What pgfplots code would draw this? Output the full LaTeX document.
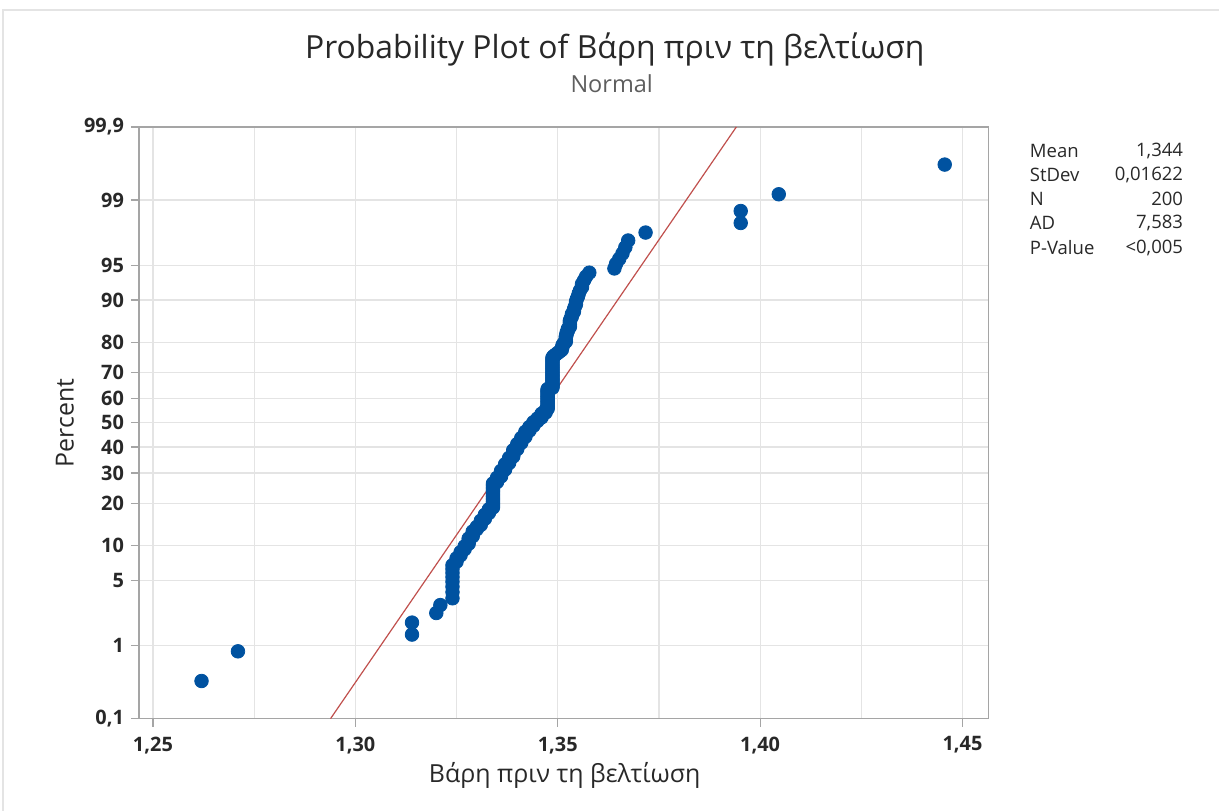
\documentclass[border=0pt]{standalone}
\usepackage{fontspec}
\setmainfont{Open Sans}
\usepackage{pgfplots}
\pgfplotsset{compat=1.18}
\definecolor{dotblue}{RGB}{0,82,160}
\definecolor{fitred}{RGB}{192,80,77}
\definecolor{gridgray}{RGB}{228,228,228}
\definecolor{framegray}{RGB}{165,165,165}
\definecolor{txt}{RGB}{40,40,40}

\begin{document}
\begin{tikzpicture}
% page frame: 1220 x 811 px at 0.5bp per px, axis box lower left at (0,0)
\path (-69.5bp,-46bp) rectangle (540.5bp,359.5bp);
\draw[gridgray, line width=0.6bp] (-68bp,-46bp) -- (-68bp,354.5bp) -- (540.5bp,354.5bp);

\begin{axis}[
  at={(0,0)}, anchor=south west,
  scale only axis,
  width=425bp, height=296bp,
  xmin=1.24654, xmax=1.45642,
  ymin=-3.0902, ymax=3.0902,
  xtick={1.25,1.30,1.35,1.40,1.45},
  xticklabels={{1,25},{1,30},{1,35},{1,40},{1,45}},
  minor xtick={1.275,1.325,1.375,1.425},
  ytick={-3.0902,-2.3263,-1.6449,-1.2816,-0.8416,-0.5244,-0.2533,0,0.2533,0.5244,0.8416,1.2816,1.6449,2.3263,3.0902},
  yticklabels={{0,1},1,5,10,20,30,40,50,60,70,80,90,95,99,{99,9}},
  tick pos=left,
  grid=both,
  major grid style={gridgray, line width=0.6bp},
  minor grid style={gridgray, line width=0.6bp},
  tick align=outside,
  major tick length=4bp,
  minor tick length=0pt,
  tick style={framegray, line width=0.6bp},
  axis line style={framegray, line width=0.7bp},
  ticklabel style={font=\fontsize{10}{12}\selectfont\bfseries, text=txt},
  xticklabel style={yshift=-1.5bp},
  clip=false,
]

% fitted normal line (mean 1,344, stdev 0,01622)
\addplot[fitred, line width=0.6bp] coordinates {(1.293877,-3.0902) (1.394123,3.0902)};

% data: x value, normal score of plotting position
\addplot[only marks, mark=*, mark size=3.4bp, color=dotblue, mark options={draw=dotblue, fill=dotblue}] coordinates {
(1.262,-2.697) (1.271,-2.387) (1.314,-2.212) (1.314,-2.087) (1.320,-1.987) (1.321,-1.904)
(1.324,-1.833) (1.324,-1.769) (1.324,-1.712) (1.324,-1.660) (1.324,-1.612) (1.324,-1.568)
(1.324,-1.527) (1.324,-1.488) (1.325,-1.451) (1.325,-1.416) (1.326,-1.383) (1.326,-1.351)
(1.327,-1.320) (1.327,-1.291) (1.328,-1.263) (1.328,-1.236) (1.328,-1.209) (1.329,-1.184)
(1.329,-1.159) (1.329,-1.135) (1.330,-1.111) (1.330,-1.088) (1.331,-1.066) (1.331,-1.044)
(1.331,-1.023) (1.332,-1.002) (1.332,-0.981) (1.332,-0.961) (1.333,-0.942) (1.333,-0.922)
(1.333,-0.903) (1.334,-0.885) (1.334,-0.866) (1.334,-0.848) (1.334,-0.831) (1.334,-0.813)
(1.334,-0.796) (1.334,-0.779) (1.334,-0.762) (1.334,-0.745) (1.334,-0.729) (1.334,-0.713)
(1.334,-0.697) (1.334,-0.681) (1.334,-0.665) (1.334,-0.650) (1.334,-0.634) (1.335,-0.619)
(1.335,-0.604) (1.335,-0.589) (1.335,-0.574) (1.336,-0.560) (1.336,-0.545) (1.336,-0.531)
(1.336,-0.516) (1.336,-0.502) (1.337,-0.488) (1.337,-0.474) (1.337,-0.460) (1.337,-0.447)
(1.337,-0.433) (1.338,-0.419) (1.338,-0.406) (1.338,-0.392) (1.338,-0.379) (1.338,-0.366)
(1.339,-0.352) (1.339,-0.339) (1.339,-0.326) (1.339,-0.313) (1.339,-0.300) (1.339,-0.287)
(1.340,-0.274) (1.340,-0.261) (1.340,-0.248) (1.340,-0.235) (1.340,-0.222) (1.341,-0.209)
(1.341,-0.197) (1.341,-0.184) (1.341,-0.171) (1.341,-0.158) (1.342,-0.146) (1.342,-0.133)
(1.342,-0.120) (1.342,-0.107) (1.342,-0.094) (1.343,-0.082) (1.343,-0.069) (1.343,-0.056)
(1.343,-0.044) (1.344,-0.031) (1.344,-0.019) (1.344,-0.006) (1.344,0.006) (1.345,0.019)
(1.345,0.031) (1.345,0.044) (1.346,0.056) (1.346,0.069) (1.346,0.082) (1.346,0.094)
(1.347,0.107) (1.347,0.120) (1.347,0.133) (1.3475,0.146) (1.3475,0.158) (1.3475,0.171)
(1.3475,0.184) (1.3475,0.197) (1.3475,0.209) (1.3475,0.222) (1.3475,0.235) (1.3475,0.248)
(1.3475,0.261) (1.3475,0.274) (1.3475,0.287) (1.3475,0.300) (1.3475,0.313) (1.3475,0.326)
(1.3475,0.339) (1.3475,0.352) (1.3487,0.366) (1.3487,0.379) (1.3487,0.392) (1.3487,0.406)
(1.3487,0.419) (1.3487,0.433) (1.3487,0.447) (1.3487,0.460) (1.3487,0.474) (1.3487,0.488)
(1.3487,0.502) (1.3487,0.516) (1.3487,0.531) (1.3487,0.545) (1.3487,0.560) (1.3487,0.574)
(1.3487,0.589) (1.3487,0.604) (1.3487,0.619) (1.3487,0.634) (1.3487,0.650) (1.3487,0.665)
(1.3487,0.681) (1.349,0.697) (1.3495,0.713) (1.350,0.729) (1.3505,0.745) (1.351,0.762)
(1.351,0.779) (1.3512,0.796) (1.3512,0.813) (1.3515,0.831) (1.352,0.848) (1.352,0.866)
(1.352,0.885) (1.352,0.903) (1.3522,0.922) (1.3522,0.942) (1.3525,0.961) (1.3525,0.981)
(1.353,1.002) (1.353,1.023) (1.353,1.044) (1.353,1.066) (1.3532,1.088) (1.3535,1.111)
(1.3535,1.135) (1.354,1.159) (1.354,1.184) (1.3542,1.209) (1.3545,1.236) (1.3545,1.263)
(1.3547,1.291) (1.355,1.320) (1.3552,1.351) (1.3555,1.383) (1.356,1.416) (1.356,1.451)
(1.3565,1.488) (1.357,1.527) (1.3578,1.568) (1.364,1.612) (1.3644,1.660) (1.3652,1.712)
(1.366,1.769) (1.3667,1.833) (1.3674,1.904) (1.3717,1.987) (1.3952,2.087) (1.3952,2.212)
(1.4046,2.387) (1.4456,2.697)
};
\end{axis}

% titles and labels (positions in px/2 from the axis corner)
\node[text=txt, font=\fontsize{16}{18}\selectfont] at (238bp,334.5bp) {Probability Plot of Βάρη πριν τη βελτίωση};
\node[text=txt!75, font=\fontsize{11.8}{14}\selectfont] at (236.5bp,317.5bp) {Normal};
\node[text=txt, font=\fontsize{12.5}{15}\selectfont] at (213bp,-28.5bp) {Βάρη πριν τη βελτίωση};
\node[text=txt, font=\fontsize{12.5}{15}\selectfont, rotate=90] at (-37bp,148bp) {Percent};

% statistics box
\begin{scope}[every node/.style={text=txt, font=\fontsize{9.3}{11}\selectfont, inner sep=0pt}]
\node[anchor=west] at (445.5bp,284bp) {Mean};
\node[anchor=west] at (445.5bp,272bp) {StDev};
\node[anchor=west] at (445.5bp,260bp) {N};
\node[anchor=west] at (445.5bp,248bp) {AD};
\node[anchor=west] at (445.5bp,235.5bp) {P-Value};
\node[anchor=east] at (522.5bp,284bp) {1,344};
\node[anchor=east] at (522.5bp,272bp) {0,01622};
\node[anchor=east] at (522.5bp,260bp) {200};
\node[anchor=east] at (522.5bp,248bp) {7,583};
\node[anchor=east] at (522.5bp,235.5bp) {<0,005};
\end{scope}
\end{tikzpicture}
\end{document}
